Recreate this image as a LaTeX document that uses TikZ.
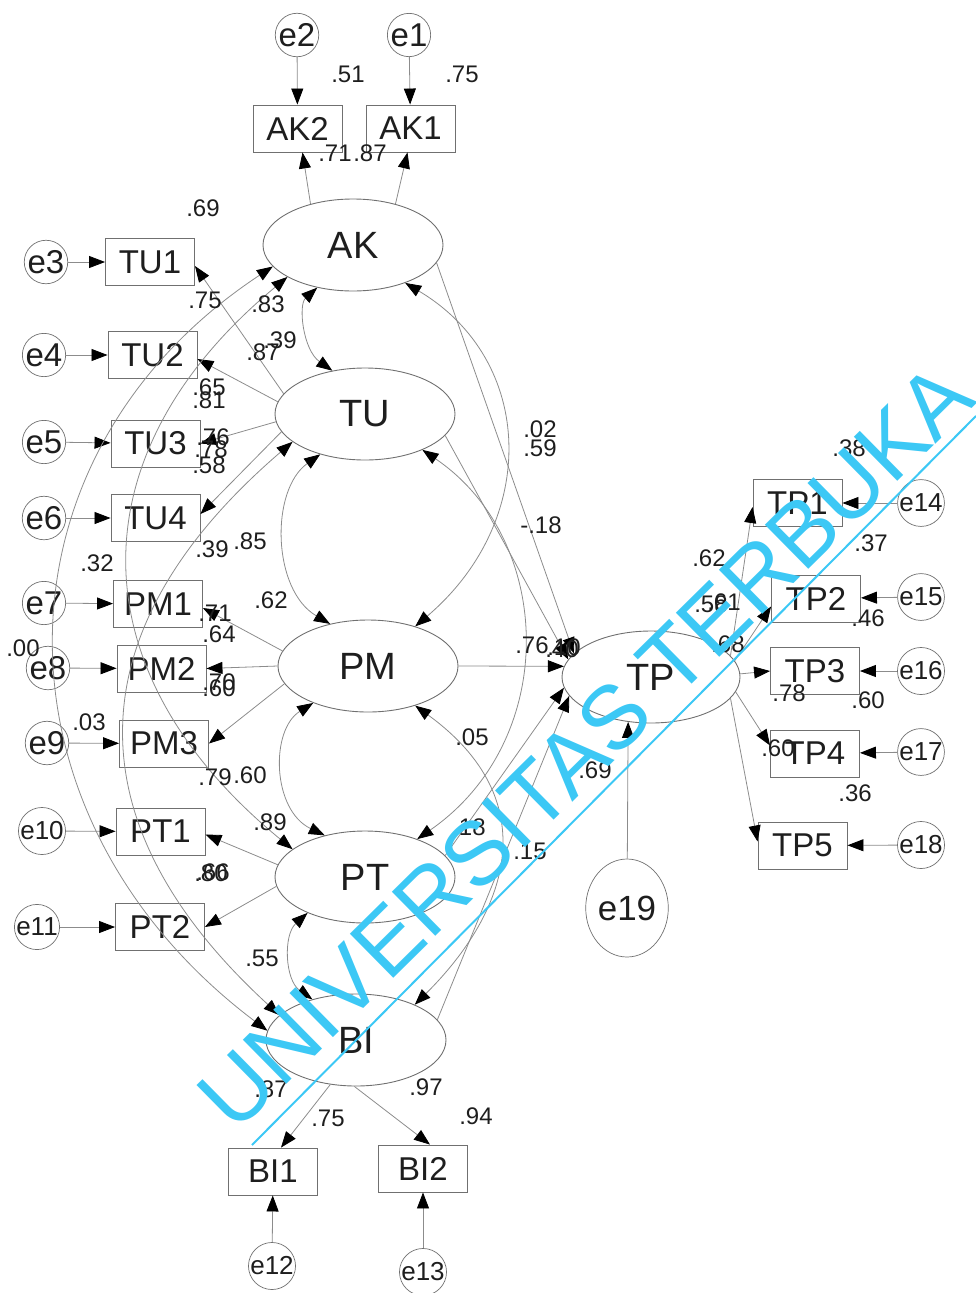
\documentclass[tikz,border=0pt]{standalone}
\usepackage{fontspec}
\setmainfont{Liberation Sans}
\usetikzlibrary{arrows.meta,shapes.geometric}
\definecolor{ln}{HTML}{8C8C8C}
\definecolor{bx}{HTML}{707070}
\definecolor{tx}{HTML}{1E1E1E}
\definecolor{wmc}{HTML}{3CC8F5}
\tikzset{
  blk/.tip={Triangle[length=16pt,width=12pt,color=black]},
  lat/.style={ellipse, draw=bx, line width=0.9pt, minimum width=180pt, minimum height=92pt, inner sep=0pt, font=\fontsize{38}{38}\selectfont, text=tx},
  obs/.style={rectangle, draw=bx, line width=0.9pt, minimum width=89pt, minimum height=47pt, inner sep=0pt, font=\fontsize{33}{33}\selectfont, text=tx},
  err/.style={circle, draw=bx, line width=0.7pt, minimum size=43pt, inner sep=0pt, font=\fontsize{33}{33}\selectfont, text=tx},
  errs/.style={err, font=\fontsize{26}{26}\selectfont},
  num/.style={font=\fontsize{24}{24}\selectfont, text=tx, inner sep=0pt},
  pth/.style={draw=ln, line width=0.8pt, -{blk}},
  cov/.style={draw=ln, line width=0.8pt, {blk}-{blk}},
}
\begin{document}
\begin{tikzpicture}[x=1pt,y=-1pt]
\path[use as bounding box] (0,0) rectangle (976,1293);
% latent variables
\node[lat] (AK) at (353,245) {AK};
\node[lat] (TU) at (365,414) {TU};
\node[lat] (PM) at (368,666) {PM};
\node[lat] (PT) at (365,877) {PT};
\node[lat] (BI) at (356,1040) {BI};
\node[lat, minimum width=178pt] (TP) at (651,677) {TP};
% observed
\node[obs] (AK2) at (297.5,128.5) {AK2};
\node[obs] (AK1) at (410.5,128.5) {AK1};
\node[obs] (TU1) at (150,262) {TU1};
\node[obs] (TU2) at (152.5,355) {TU2};
\node[obs] (TU3) at (155.5,443.5) {TU3};
\node[obs] (TU4) at (155.5,518) {TU4};
\node[obs] (PM1) at (158,604) {PM1};
\node[obs] (PM2) at (161.5,668.5) {PM2};
\node[obs] (PM3) at (164,743.5) {PM3};
\node[obs] (PT1) at (160.5,831.5) {PT1};
\node[obs] (PT2) at (160,927) {PT2};
\node[obs] (BI1) at (273,1171.5) {BI1};
\node[obs] (BI2) at (423,1168.5) {BI2};
\node[obs] (TP1) at (797.5,503) {TP1};
\node[obs] (TP2) at (816,598.5) {TP2};
\node[obs] (TP3) at (815,671) {TP3};
\node[obs] (TP4) at (815,753.5) {TP4};
\node[obs] (TP5) at (802.5,845.5) {TP5};
% errors
\node[err] (e1) at (409,35) {e1};
\node[err] (e2) at (297,35) {e2};
\node[err] (e3) at (46,262) {e3};
\node[err] (e4) at (44,355) {e4};
\node[err] (e5) at (44,442) {e5};
\node[err] (e6) at (44,518) {e6};
\node[err] (e7) at (44,603) {e7};
\node[err] (e8) at (48,668) {e8};
\node[err] (e9) at (47,743) {e9};
\node[errs] (e10) at (42,831) {e10};
\node[errs] (e11) at (37,927) {e11};
\node[errs] (e12) at (272,1266) {e12};
\node[errs] (e13) at (423,1272) {e13};
\node[errs] (e14) at (921,503) {e14};
\node[errs] (e15) at (921,597) {e15};
\node[errs] (e16) at (921,671) {e16};
\node[errs] (e17) at (921,752) {e17};
\node[errs] (e18) at (921,845) {e18};
\node[ellipse, draw=bx, line width=0.7pt, minimum width=76pt, minimum height=98pt, inner sep=0pt, font=\fontsize{35}{35}\selectfont, text=tx] (e19) at (627,908) {e19};
% error paths
\foreach \e/\o in {e1/AK1,e2/AK2,e3/TU1,e4/TU2,e5/TU3,e6/TU4,e7/PM1,e8/PM2,e9/PM3,e10/PT1,e11/PT2,e12/BI1,e13/BI2,e14/TP1,e15/TP2,e16/TP3,e17/TP4,e18/TP5}
  \draw[pth] (\e) -- (\o);
\draw[pth] (e19) -- (TP.243);
% loadings
\draw[pth] (AK.136) -- ([xshift=5pt]AK2.south);
\draw[pth] (AK.44) -- ([xshift=-3pt]AK1.south);
\draw[pth] (TU.166) -- ([yshift=-4pt]TU1.east);
\draw[pth] (TU.172) -- ([yshift=-4pt]TU2.east);
\draw[pth] (TU.185) -- (TU3.east);
\draw[pth] (TU.192) -- ([yshift=4pt]TU4.east);
\draw[pth] (PM.170) -- ([yshift=-4pt]PM1.east);
\draw[pth] (PM.180) -- (PM2.east);
\draw[pth] (PM.192) -- (PM3.east);
\draw[pth] (PT.172) -- ([yshift=-3pt]PT1.east);
\draw[pth] (PT.186) -- (PT2.east);
\draw[pth] (BI.240) -- ([xshift=8pt]BI1.north);
\draw[pth] (BI.268) -- ([xshift=7pt]BI2.north);
\draw[pth] (TP.15) -- ([yshift=-4pt]TP1.west);
\draw[pth] (TP.11) -- ([yshift=-8pt]TP2.west);
\draw[pth] (TP.2) -- (TP3.west);
\draw[pth] (TP.350) -- ([yshift=8pt]TP4.west);
\draw[pth] (TP.345) -- ([yshift=4pt]TP5.west);
% structural paths
\draw[pth] (AK.348) -- (TP.163);
\draw[pth] (TU.345) -- (TP.168);
\draw[pth] (PM.0) -- (TP.173);
\draw[pth] (PT.15) -- (TP.187);
\draw[pth] (BI.14) -- (TP.193);
% covariances
\draw[cov] (AK.230) .. controls (298,305) and (303,350) .. (TU.127);
\draw[cov] (TU.222) .. controls (270,490) and (272,590) .. (PM.132);
\draw[cov] (PM.214) .. controls (270,730) and (272,810) .. (PT.134);
\draw[cov] (PT.212) .. controls (283,935) and (285,980) .. (BI.137);
\draw[cov] (AK.324) .. controls (535,360) and (540,520) .. (PM.40);
\draw[cov] (TU.328) .. controls (555,540) and (560,740) .. (PT.36);
\draw[cov] (PM.320) .. controls (545,800) and (510,910) .. (BI.31);
\draw[cov] (AK.195) .. controls (-16,457) and (-16,817) .. (BI.174);
\draw[cov] (AK.206) .. controls (75,453) and (75,671) .. (PT.159);
\draw[cov] (TU.201) .. controls (72,631) and (72,825) .. (BI.162);
% labels
\node[num] (n1) at (348,74) {.51};
\node[num] (n2) at (462,74) {.75};
\node[num] (n3) at (335,153) {.71};
\node[num] (n4) at (370,153) {.87};
\node[num] (n5) at (203,208) {.69};
\node[num] (n6) at (205,300) {.75};
\node[num] (n7) at (268,304) {.83};
\node[num] (n8) at (280,340) {.39};
\node[num] (n9) at (263,352) {.87};
\node[num] (n10) at (209,387) {.65};
\node[num] (n11) at (209,400) {.81};
\node[num] (n12) at (213,437) {.76};
\node[num] (n13) at (211,449) {.78};
\node[num] (n14) at (209,465) {.58};
\node[num] (n15) at (212,549) {.39};
\node[num] (n16) at (250,541) {.85};
\node[num] (n17) at (97,563) {.32};
\node[num] (n18) at (271,600) {.62};
\node[num] (n19) at (215,613) {.71};
\node[num] (n20) at (219,634) {.64};
\node[num] (n21) at (23,648) {.00};
\node[num] (n22) at (219,682) {.70};
\node[num] (n23) at (219,688) {.60};
\node[num] (n24) at (89,722) {.03};
\node[num] (n25) at (215,777) {.79};
\node[num] (n26) at (250,775) {.60};
\node[num] (n27) at (270,822) {.89};
\node[num] (n28) at (213,872) {.66};
\node[num] (n29) at (211,873) {.80};
\node[num] (n30) at (472,737) {.05};
\node[num] (n31) at (469,827) {.18};
\node[num] (n32) at (530,851) {.15};
\node[num] (n33) at (262,958) {.55};
\node[num] (n34) at (271,1089) {.87};
\node[num] (n35) at (426,1087) {.97};
\node[num] (n36) at (328,1118) {.75};
\node[num] (n37) at (476,1116) {.94};
\node[num] (n38) at (595,770) {.69};
\node[num] (n39) at (540,429) {.02};
\node[num] (n40) at (540,448) {.59};
\node[num] (n41) at (541,525) {-.18};
\node[num] (n42) at (532,645) {.76};
\node[num] (n43) at (562,649) {.40};
\node[num] (n44) at (564,647) {.10};
\node[num] (n45) at (849,448) {.38};
\node[num] (n46) at (871,543) {.37};
\node[num] (n47) at (709,558) {.62};
\node[num] (n48) at (711,604) {.58};
\node[num] (n49) at (724,602) {.61};
\node[num] (n50) at (868,618) {.46};
\node[num] (n51) at (728,644) {.68};
\node[num] (n52) at (789,693) {.78};
\node[num] (n53) at (868,700) {.60};
\node[num] (n54) at (778,748) {.60};
\node[num] (n55) at (855,793) {.36};
% watermark
\coordinate (wa) at (252,1145);
\coordinate (wb) at (976,416);
\draw[wmc, line width=2pt] (wa) -- (wb);
\node[text=wmc, font=\fontsize{90}{90}\selectfont, rotate=44.6, anchor=base west, inner sep=0pt] (wm) at (235,1135) {UNIVERSITAS TERBUKA};
\end{tikzpicture}
\end{document}
